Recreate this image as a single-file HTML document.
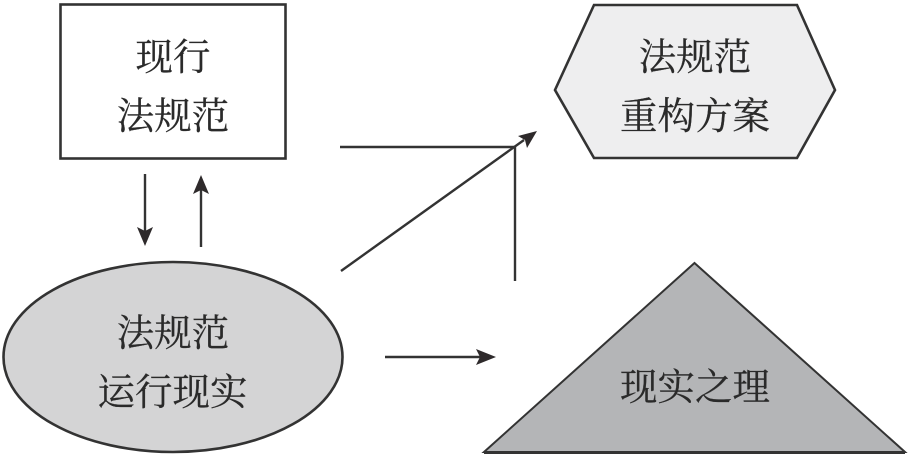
<!DOCTYPE html>
<html>
<head>
<meta charset="utf-8">
<style>
html,body{margin:0;padding:0;background:#fff;width:908px;height:454px;overflow:hidden}
svg{display:block}
text{font-family:"Liberation Serif","Noto Serif CJK SC",serif;font-size:37.5px;fill:#2a2a2a;text-anchor:middle;stroke:#2a2a2a;stroke-width:.25px}
</style>
</head>
<body>
<svg width="908" height="454" viewBox="0 0 908 454" xmlns="http://www.w3.org/2000/svg">
<rect x="60.5" y="4.5" width="225" height="154" fill="#fff" stroke="#333" stroke-width="2.6"/>
<polygon points="555,90 594,5 797,5 835,90 797,158 594,158" fill="#eeeeef" stroke="#333" stroke-width="2.6" stroke-linejoin="miter"/>
<ellipse cx="173" cy="357" rx="169.5" ry="95" fill="#d4d4d5" stroke="#333" stroke-width="2.6"/>
<polygon points="694.5,263 905,452 484,452" fill="#b4b5b7" stroke="#333" stroke-width="2"/>
<rect x="484" y="451" width="421" height="3" fill="#333"/>

<g stroke="#333" stroke-width="2.4" fill="none">
<line x1="145" y1="174" x2="145" y2="232"/>
<line x1="201" y1="247" x2="201" y2="190"/>
<line x1="340" y1="147" x2="515" y2="147"/>
<line x1="341" y1="271" x2="524" y2="140"/>
<line x1="515" y1="147" x2="515" y2="281"/>
<line x1="385" y1="357" x2="480" y2="357"/>
</g>
<g fill="#2e2a2b">
<polygon points="145,246 137,227 145,231 153,227"/>
<polygon points="201,175 193,194 201,190 209,194"/>
<polygon points="537,131 518,136 525,140 527,148"/>
<polygon points="496,357 476,349 480,357 476,365"/>
</g>

<text x="173" y="70">现行</text>
<text x="173" y="129">法规范</text>
<text x="695" y="70">法规范</text>
<text x="695" y="129">重构方案</text>
<text x="173" y="346">法规范</text>
<text x="172.500" y="405">运行现实</text>
<text x="695" y="400">现实之理</text>
</svg>
</body>
</html>
